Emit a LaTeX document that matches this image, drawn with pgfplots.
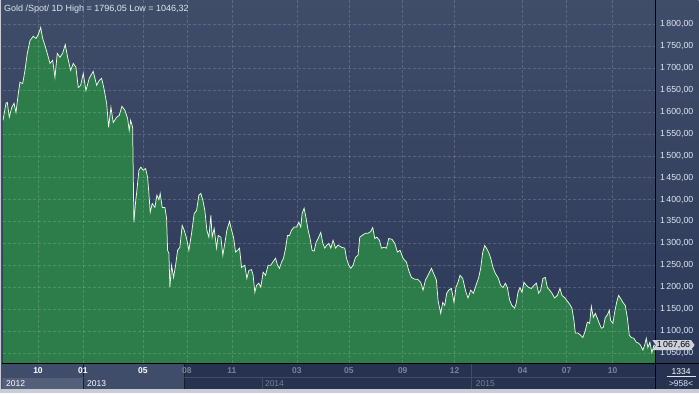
\documentclass[border=0pt]{standalone}
\usepackage{pgfplots}
\pgfplotsset{compat=1.18}
\usepackage{pgfplotstable}
\usepackage{fontspec}
\setmainfont{Liberation Sans}
\usetikzlibrary{shapes.symbols}
\definecolor{bgtop}{RGB}{64,77,105}
\definecolor{bgbot}{RGB}{44,56,88}
\definecolor{fillg}{RGB}{45,125,75}
\definecolor{linec}{RGB}{230,250,224}
\definecolor{frameg}{RGB}{200,204,212}
\definecolor{panlight}{RGB}{63,77,106}
\definecolor{pan2012}{RGB}{84,96,122}
\definecolor{pandark}{RGB}{38,50,79}
\definecolor{dimtxt}{RGB}{120,132,156}
\definecolor{txt}{RGB}{222,230,242}
\definecolor{markbox}{RGB}{205,210,218}

\pgfplotstableread{
x price
3 1581
6 1620
7.3 1622
9.3 1588
11.7 1610
14 1620
16 1599
18.3 1642
20 1668
22.7 1665
25 1695
27.3 1734
30 1763
33.3 1773
36 1768
38.3 1777
40.7 1793
42.7 1768
45 1752
47.3 1734
50 1711
52.7 1718
55 1679
57.3 1734
60 1725
62.7 1734
65.3 1754
67.7 1725
70.7 1695
73.3 1711
76 1702
78.3 1656
80.7 1661
83.3 1688
86 1649
89.3 1677
93.3 1693
96.7 1661
99.3 1672
101.7 1677
104 1654
106.7 1620
108.7 1565
111 1611
113.3 1576
116.7 1588
119.3 1592
122 1613
125 1604
127.7 1585
129.3 1558
130.7 1581
132.7 1565
134 1348
135.7 1395
137 1421
139 1467
141 1474
143.3 1467
145.7 1471
147.7 1451
149 1414
150.3 1371
152.3 1391
155 1382
157 1410
159 1400
160.3 1414
162.3 1382
165 1382
166.7 1357
167.7 1284
169 1277
170 1200
171.7 1250
173.7 1222
175.7 1250
177.7 1284
180 1291
182.3 1341
184.3 1330
186.7 1311
189 1284
191.7 1323
194.3 1368
196.7 1375
199 1410
201 1414
203 1398
205 1375
207 1330
209 1314
211 1364
212.3 1314
214.3 1334
216.7 1289
218.3 1318
221 1314
223 1273
225 1300
227 1330
229.7 1350
231.7 1330
233.7 1314
235.7 1280
237.7 1284
239.7 1289
241.7 1245
245 1250
247 1220
249 1238
251.7 1240
253.3 1227
255 1188
256.7 1204
259 1209
261 1200
263.3 1234
265.7 1227
268.3 1250
271 1250
273 1257
275.7 1266
277.7 1250
279.7 1243
281.7 1257
283.7 1266
285.7 1288
287.7 1318
289.7 1318
291.7 1330
294.3 1337
296.7 1337
299 1348
301 1337
302.3 1368
304.3 1380
306.3 1357
308.3 1330
310.3 1311
312.3 1284
314.3 1282
316.3 1302
318.3 1311
321 1325
323 1300
325 1289
327 1296
329 1300
331 1289
333.3 1307
335.7 1289
338.3 1296
341.7 1291
345 1289
346.7 1266
349 1250
351 1243
353.3 1250
355.7 1268
358.3 1273
360 1314
362.3 1318
365.7 1323
368.3 1323
371 1327
373 1336
375 1311
377 1314
379.7 1307
381.7 1289
384.3 1291
386.7 1289
389 1311
392.3 1309
395 1300
397.7 1280
400.3 1284
403.3 1266
406.7 1257
409 1238
411.7 1222
415 1218
417.7 1218
421 1211
423.3 1193
425.7 1216
428.3 1227
431.7 1243
434.3 1229
436.7 1216
438.3 1170
441 1140
443 1165
445 1158
447 1186
449 1193
451.7 1197
454.3 1165
456.3 1200
458.3 1211
460.3 1227
463 1220
465.7 1193
468.3 1175
471 1193
473.7 1186
476.3 1204
479 1222
481 1243
483 1279
485 1295
487 1288
489 1279
491 1266
493.3 1245
495.7 1231
498.3 1222
501 1204
503.3 1199
505.7 1209
507.7 1199
510 1170
512.3 1158
515 1152
516.7 1165
518.3 1188
520.3 1199
522.3 1188
524.3 1211
526.7 1204
529 1199
531.7 1197
534.3 1204
536.7 1209
539 1186
541 1193
543.3 1220
545.7 1222
547.7 1199
550 1193
552.3 1186
555 1175
557.7 1181
560.3 1197
562.3 1181
565 1176
567.7 1168
570 1161
572.3 1152
574.3 1124
575.7 1095
578.3 1095
581 1090
583.3 1085
585.7 1101
587.7 1120
590 1117
591.7 1156
593.7 1131
595.7 1140
597.7 1129
599.7 1117
601.7 1106
603.7 1108
605.7 1131
607.7 1136
609.7 1147
611 1124
613.3 1117
615 1142
617 1165
619 1181
621 1174
623.3 1165
625.7 1158
627.7 1131
629.7 1090
631.7 1085
634.3 1083
636.7 1074
639 1072
641 1067
643.3 1056
645 1067
646.7 1083
648.3 1062
650.3 1074
652.3 1050
654.3 1067
656 1067.66
}\golddata

\begin{document}
\begin{tikzpicture}
\fill[frameg] (0pt,0pt) rectangle (699pt,393pt);
\shade[top color=bgtop, bottom color=bgbot] (2pt,30pt) rectangle (699pt,393pt);
\fill[pandark] (2pt,4pt) rectangle (699pt,30pt);
\fill[panlight] (2pt,4pt) rectangle (185pt,30pt);
\fill[pan2012] (2pt,4pt) rectangle (83pt,16pt);
\draw[pandark!60!black, line width=0.6pt] (83pt,4pt) -- (83pt,30pt);
\draw[pandark!60!black, line width=0.8pt] (185pt,4pt) -- (185pt,30pt);
\draw[panlight, line width=0.5pt] (262pt,4pt) -- (262pt,16pt);
\draw[panlight, line width=0.5pt] (472pt,4pt) -- (472pt,30pt);
\draw[panlight, line width=0.5pt] (2pt,16pt) -- (656pt,16pt);

\begin{axis}[
  at={(3pt,30pt)}, anchor=south west,
  scale only axis, width=653pt, height=363pt,
  xmin=3, xmax=656, ymin=1026.1, ymax=1854.8,
  axis line style={draw=none},
  major tick length=0pt,
  axis on top,
  xmajorgrids, ymajorgrids,
  grid style={densely dashed, white, opacity=0.16, line width=0.5pt},
  xtick={38,83,143,187,232,297,349,403,455,523,567,613},
  xticklabels={{\color{white}10},{\color{white}01},{\color{white}05},{\color{dimtxt}08},{\color{dimtxt}11},{\color{dimtxt}03},{\color{dimtxt}05},{\color{dimtxt}09},{\color{dimtxt}12},{\color{dimtxt}04},{\color{dimtxt}07},{\color{dimtxt}10}},
  xticklabel style={font=\fontsize{8.5}{10}\selectfont\bfseries, anchor=center, yshift=-7.5pt, inner sep=0pt},
  ytick={1050,1100,...,1800},
  yticklabel pos=right,
  yticklabel style={font=\fontsize{8.8}{10}\selectfont, text=txt, anchor=east, inner sep=0pt, xshift=38pt},
  /pgf/number format/.cd, fixed, fixed zerofill, precision=2, use comma, 1000 sep={\,}, assume math mode=true,
]
\addplot[fill=fillg, draw=none] table[x=x, y=price] {\golddata} \closedcycle;
\addplot[linec, line width=0.75pt] table[x=x, y=price] {\golddata};
\coordinate (lastp) at (axis cs:656,1067.66);
\end{axis}

\draw[black, line width=0.9pt] (2pt,30pt) -- (699pt,30pt);
\draw[black, line width=0.9pt] (656pt,4pt) -- (656pt,393pt);
\draw[black!70, line width=0.8pt] (1.6pt,4pt) -- (1.6pt,393pt);

\node[signal, signal from=west, signal pointer angle=110, fill=markbox, text=black, font=\fontsize{8.8}{10}\selectfont, anchor=west, inner sep=1pt, minimum height=10pt] at (lastp) {1\,067,66};

\node[anchor=north west, inner sep=0pt, text=txt, font=\fontsize{9}{10}\selectfont] at (4pt,389pt) {Gold /Spot/ 1D High = 1796,05 Low = 1046,32};

\begin{scope}[font=\fontsize{8.5}{10}\selectfont]
\node[anchor=west, inner sep=0pt, text=white] at (6pt,10pt) {2012};
\node[anchor=west, inner sep=0pt, text=white] at (87pt,10pt) {2013};
\node[anchor=west, inner sep=0pt, text=dimtxt] at (265pt,10pt) {2014};
\node[anchor=west, inner sep=0pt, text=dimtxt] at (476pt,10pt) {2015};
\node[inner sep=0pt, text=white] at (681.5pt,22pt) {1334};
\draw[txt, line width=0.5pt] (667pt,16.5pt) -- (696pt,16.5pt);
\node[inner sep=0pt, text=txt] at (681.5pt,9.5pt) {>958<};
\end{scope}
\end{tikzpicture}
\end{document}
